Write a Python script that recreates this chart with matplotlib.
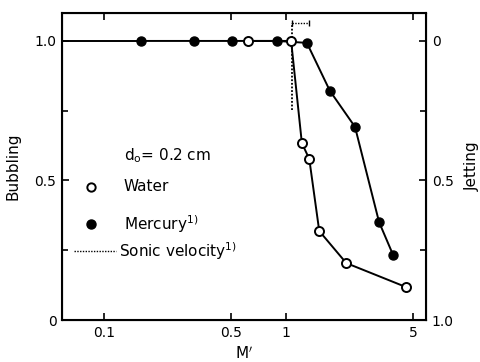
import matplotlib
matplotlib.use('Agg')
from matplotlib import pyplot as plt
import numpy as np

# data
water_m = [0.62, 1.065, 1.22, 1.34, 1.52, 2.14, 4.56]
water_b = [1.0, 1.0, 0.634, 0.577, 0.319, 0.204, 0.118]

merc_m = [0.16, 0.312, 0.505, 0.893, 1.30, 1.74, 2.39, 3.24, 3.87]
merc_b = [1.0, 1.0, 1.0, 1.0, 0.993, 0.821, 0.692, 0.351, 0.233]

sonic_m = 1.08
sonic_lo, sonic_hi = 1.08, 1.33

xticks = [0.1, 0.5, 1, 5]
xticklabels = ['0.1', '0.5', '1', '5']
yticks = [0, 0.5, 1.0]
yticklabels = ['0', '0.5', '1.0']
jticklabels = ['0', '0.5', '1.0']

plt.rcParams['font.family'] = 'DejaVu Sans'
plt.rcParams['font.size'] = 10

fig = plt.figure(figsize=(4.81, 3.62), dpi=100)
ax = fig.add_axes([0.129, 0.116, 0.757, 0.848])
xmin, xmax = 0.0587, 5.88
ax.set_xscale('log')
ax.set_xlim(xmin, xmax)
ax.set_ylim(0, 1.10)

# lead-in line along 1.0 from the axis
ax.plot([xmin, merc_m[0]], [1.0, 1.0], color='black', lw=1.4, zorder=2)
ax.plot(merc_m, merc_b, '-o', color='black', lw=1.4, ms=6.5,
        mfc='black', mec='black', zorder=3)
ax.plot(water_m, water_b, '-o', color='black', lw=1.4, ms=6.5,
        mfc='white', mec='black', mew=1.4, zorder=4)

# sonic velocity
ax.plot([sonic_m, sonic_m], [0.753, 1.065], ls=(0, (1, 1)), color='black', lw=1.3, zorder=1)
ax.plot([sonic_lo, sonic_hi], [1.065, 1.065], ls=(0, (1, 1)), color='black', lw=1.0,
        marker='|', ms=4, mew=1.0)

ax.set_xticks(xticks)
ax.set_xticklabels(xticklabels)
ax.xaxis.set_minor_locator(matplotlib.ticker.NullLocator())
ax.set_yticks(yticks)
ax.set_yticklabels(yticklabels)
ax.set_yticks([0.25, 0.75], minor=True)
ax.tick_params(direction='in', top=True, right=False, length=5, width=1.2, labelsize=10, pad=4)
ax.tick_params(which='minor', direction='in', length=4, width=1.2, right=False)
for s in ax.spines.values():
    s.set_linewidth(1.5)

ax.set_ylabel('Bubbling', fontsize=11, labelpad=10)
ax.set_xlabel("M$'$", fontsize=11, labelpad=4)

ax2 = ax.twinx()
ax2.set_ylim(1.0, -0.10)
ax2.set_yticks(yticks)
ax2.set_yticklabels(jticklabels)
ax2.set_yticks([0.25, 0.75], minor=True)
ax2.tick_params(direction='in', length=5, width=1.2, labelsize=10, pad=4)
ax2.tick_params(which='minor', direction='in', length=4, width=1.2)
ax2.set_ylabel('Jetting', fontsize=11, labelpad=8)

# legend drawn by hand
ax.text(0.128, 0.59, 'd$_\\mathrm{o}$= 0.2 cm', fontsize=11, ha='left', va='center')
ax.plot([0.085], [0.477], 'o', ms=6, mfc='white', mec='black', mew=1.4)
ax.text(0.128, 0.477, 'Water', fontsize=11, ha='left', va='center')
ax.plot([0.085], [0.345], 'o', ms=6.5, mfc='black', mec='black')
ax.text(0.128, 0.345, 'Mercury$^{1)}$', fontsize=11, ha='left', va='center')
ax.plot([0.068, 0.116], [0.247, 0.247], ls=(0, (1, 1)), color='black', lw=1.0)
ax.text(0.12, 0.247, 'Sonic velocity$^{1)}$', fontsize=11, ha='left', va='center')

fig.savefig('out.png', dpi=100)
